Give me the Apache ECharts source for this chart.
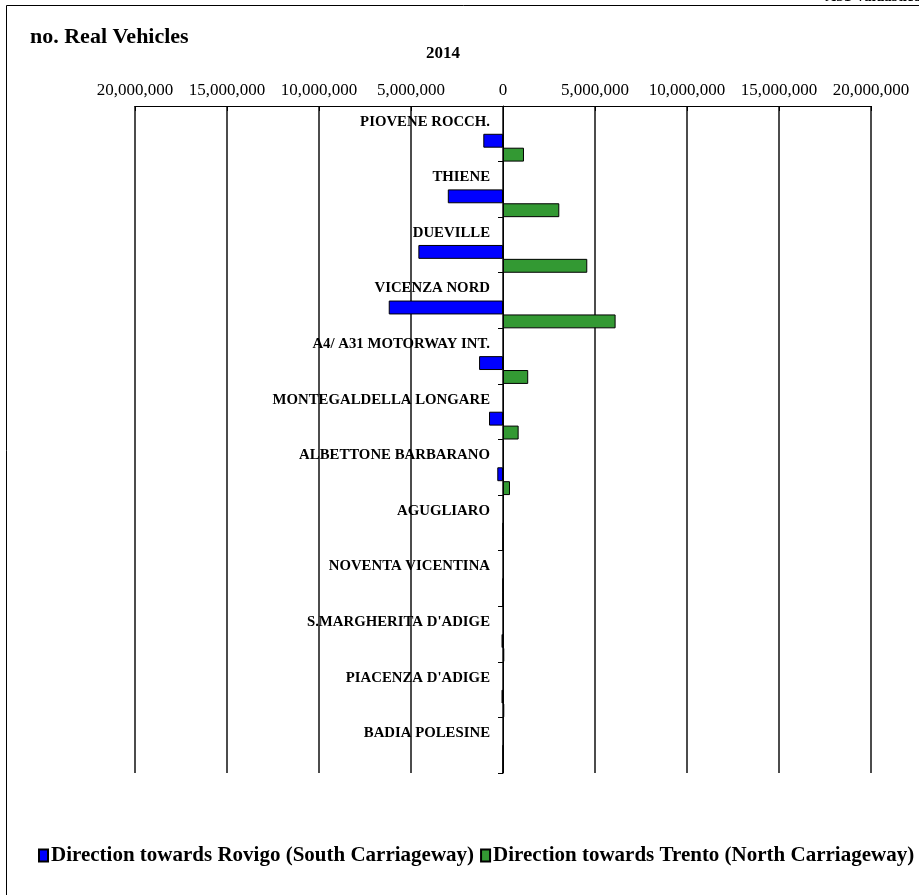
<!DOCTYPE html>
<html>
<head>
<meta charset="utf-8">
<style>
  html, body { margin: 0; padding: 0; background: #fff; }
  #chart { width: 919px; height: 895px; }
</style>
<script src="https://cdn.jsdelivr.net/npm/echarts@6/dist/echarts.min.js"></script>
</head>
<body>
<div id="chart"></div>
<script>
// toll stations, top to bottom
const stations = [
  'PIOVENE ROCCH.', 'THIENE', 'DUEVILLE', 'VICENZA NORD', 'A4/ A31 MOTORWAY INT.',
  'MONTEGALDELLA LONGARE', 'ALBETTONE BARBARANO', 'AGUGLIARO', 'NOVENTA VICENTINA',
  'S.MARGHERITA D\'ADIGE', 'PIACENZA D\'ADIGE', 'BADIA POLESINE'
];
// vehicles, direction Rovigo (drawn to the left)
const southValues = [1070000, 3000000, 4600000, 6210000, 1300000, 760000, 310000, 0, 0, 80000, 80000, 0];
// vehicles, direction Trento (drawn to the right)
const northValues = [1140000, 3060000, 4580000, 6120000, 1370000, 850000, 380000, 0, 0, 70000, 70000, 0];
const axisTicks = [-20000000, 20000000, 5000000];

const serif = '"Liberation Serif", "Times New Roman", serif';
const chart = echarts.init(document.getElementById('chart'));

const fmt = v => Math.abs(v).toLocaleString('en-US');

chart.setOption({
  animation: false,
  textStyle: { fontFamily: serif, color: '#000' },
  graphic: [
    { type: 'rect', shape: { x: 6.5, y: 5.5, width: 1000, height: 1000 },
      style: { fill: 'none', stroke: '#000', lineWidth: 1 }, z: -1 },
    { type: 'text', right: -2, top: -10,
      style: { text: 'A31 Valdastico', font: 'bold 15px ' + serif, fill: '#000' } },
    { type: 'text', left: 30, top: 26,
      style: { text: 'no. Real Vehicles', font: 'bold 22px ' + serif, fill: '#000' } },
    { type: 'text', left: 426, top: 45,
      style: { text: '2014', font: 'bold 17px ' + serif, fill: '#000' } }
  ],
  legend: {
    bottom: 24,
    left: 33,
    width: 1200,
    itemWidth: 9,
    itemHeight: 12,
    itemGap: 6,
    icon: 'rect',
    data: ['Direction towards Rovigo (South Carriageway)', 'Direction towards Trento (North Carriageway)'],
    textStyle: { fontFamily: serif, fontWeight: 'bold', fontSize: 21, color: '#000', padding: [0, 0, 0, -2] }
  },
  grid: { left: 135, right: 48, top: 106, bottom: 122, containLabel: false, outerBoundsMode: 'none' },
  xAxis: {
    type: 'value',
    position: 'top',
    min: axisTicks[0],
    max: axisTicks[1],
    interval: axisTicks[2],
    axisLine: { show: true, lineStyle: { color: '#000' } },
    axisTick: { show: true, length: 5, inside: true, lineStyle: { color: '#000' } },
    axisLabel: { formatter: fmt, fontFamily: serif, fontSize: 17, color: '#000', margin: 7 },
    splitLine: { show: true, lineStyle: { color: '#111', width: 1.5 } }
  },
  yAxis: {
    type: 'category',
    inverse: true,
    data: stations,
    axisLine: { show: true, onZero: true, lineStyle: { color: '#000' } },
    axisTick: { show: true, length: 5, lineStyle: { color: '#000' } },
    axisLabel: { show: false }
  },
  series: [
    { name: '_pad', type: 'bar', data: stations.map(() => 0), barWidth: '50%',
      barGap: '0%', barCategoryGap: '0%', silent: true,
      itemStyle: { color: 'transparent', borderWidth: 0 },
      label: {
        show: true, position: 'left', distance: 13, offset: [0, 2], formatter: '{b}',
        fontFamily: serif, fontWeight: 'bold', fontSize: 14.8, color: '#000'
      } },
    { name: 'Direction towards Rovigo (South Carriageway)', type: 'bar',
      data: southValues.map(v => -v), barWidth: '25%', barGap: '0%',
      itemStyle: { color: '#0000FF', borderColor: '#000', borderWidth: 1 } },
    { name: 'Direction towards Trento (North Carriageway)', type: 'bar',
      data: northValues, barWidth: '25%', barGap: '0%',
      itemStyle: { color: '#339933', borderColor: '#000', borderWidth: 1 } }
  ]
});
</script>
</body>
</html>
